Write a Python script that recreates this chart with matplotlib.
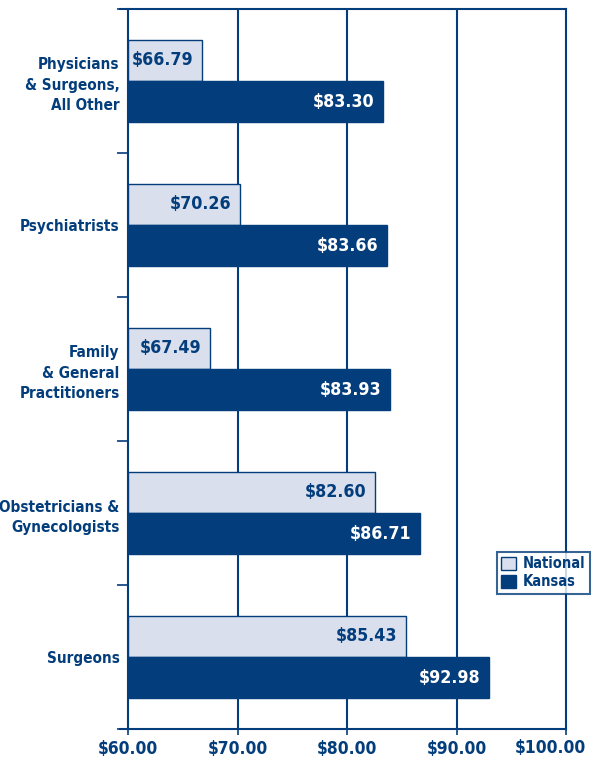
import matplotlib
matplotlib.use("Agg")
import matplotlib.pyplot as plt
from matplotlib.patches import Patch
import numpy as np

categories = ["Physicians\n& Surgeons,\nAll Other", "Psychiatrists",
              "Family\n& General\nPractitioners", "Obstetricians &\nGynecologists", "Surgeons"]
national = [66.79, 70.26, 67.49, 82.60, 85.43]
kansas = [83.30, 83.66, 83.93, 86.71, 92.98]
xticks = [60, 70, 80, 90, 100]
xticklabels = ["$60.00", "$70.00", "$80.00", "$90.00", "$100.00"]

plt.rcParams['font.family'] = ['DejaVu Sans']
plt.rcParams['font.stretch'] = 'condensed'
FS = 11.0
XFS = 12.5

NAVY = "#033d7b"
LIGHT = "#d9dfed"

fig = plt.figure(figsize=(5.92, 7.77), dpi=100)
ax = fig.add_axes([128/592, 1-729/777, (566-128)/592, (729-9)/777])

n = len(categories)
y = np.arange(n)
h = 0.285
ax.barh(y - h/2, [v - 60 for v in national], left=60, height=h, color=LIGHT,
        edgecolor=NAVY, linewidth=1.0, zorder=3)
ax.barh(y + h/2, [v - 60 for v in kansas], left=60, height=h, color=NAVY,
        edgecolor=NAVY, linewidth=1.0, zorder=3)

for i in range(n):
    ax.text(national[i] - 0.8, y[i] - h/2, f"${national[i]:.2f}", ha="right", va="center",
            color=NAVY, fontsize=12.8, fontweight="bold", zorder=4)
    ax.text(kansas[i] - 0.8, y[i] + h/2, f"${kansas[i]:.2f}", ha="right", va="center",
            color="white", fontsize=12.8, fontweight="bold", zorder=4)

ax.set_xlim(60, 100)
ax.set_ylim(n - 0.5, -0.5)
ax.set_xticks(xticks)
ax.set_xticklabels(xticklabels[:-1] + [""], fontsize=XFS, fontweight="bold", color=NAVY)
# last tick label placed with a small left offset so it stays inside the figure
ax.annotate(xticklabels[-1], xy=(xticks[-1], 0), xycoords=ax.get_xaxis_transform(),
            xytext=(-11, -7), textcoords="offset points", ha="center", va="top",
            fontsize=XFS, fontweight="bold", color=NAVY, annotation_clip=False)
for xv in xticks[1:-1]:
    ax.axvline(xv, color=NAVY, lw=1.5, zorder=1)

ax.set_yticks(np.arange(-0.5, n, 1.0), minor=False)
ax.set_yticklabels([])
ax.set_yticks(y, minor=True)
ax.set_yticklabels(categories, minor=True, fontsize=FS, fontweight="bold", color=NAVY,
                   linespacing=1.45)
ax.tick_params(axis="y", which="minor", length=0, pad=6)
ax.tick_params(axis="y", which="major", length=8, width=1.2, color=NAVY, direction="out")
ax.tick_params(axis="x", length=4, width=1.2, color=NAVY, pad=4)
for lbl in ax.get_yticklabels(minor=True):
    lbl.set_horizontalalignment("right")

for s in ["left", "bottom", "top", "right"]:
    ax.spines[s].set_color(NAVY)
    ax.spines[s].set_linewidth(1.5)
ax.spines["bottom"].set_bounds(59.3, 100)
ax.spines["top"].set_bounds(59.3, 100)
ax.spines["bottom"].set_zorder(5)

handles = [Patch(facecolor=LIGHT, edgecolor=NAVY, label="National"),
           Patch(facecolor=NAVY, edgecolor=NAVY, label="Kansas")]
leg = fig.legend(handles=handles, loc="upper left", bbox_to_anchor=(497/592, 1-552/777),
                 frameon=True, fancybox=False, edgecolor=NAVY, fontsize=10.5,
                 handlelength=1.0, handleheight=1.0, handletextpad=0.5,
                 borderpad=0.3, labelspacing=0.2, borderaxespad=0)
leg.get_frame().set_linewidth(1.5)
leg.set_zorder(10)
for t in leg.get_texts():
    t.set_color(NAVY)
    t.set_fontweight("bold")

fig.savefig("out.png", dpi=100)
